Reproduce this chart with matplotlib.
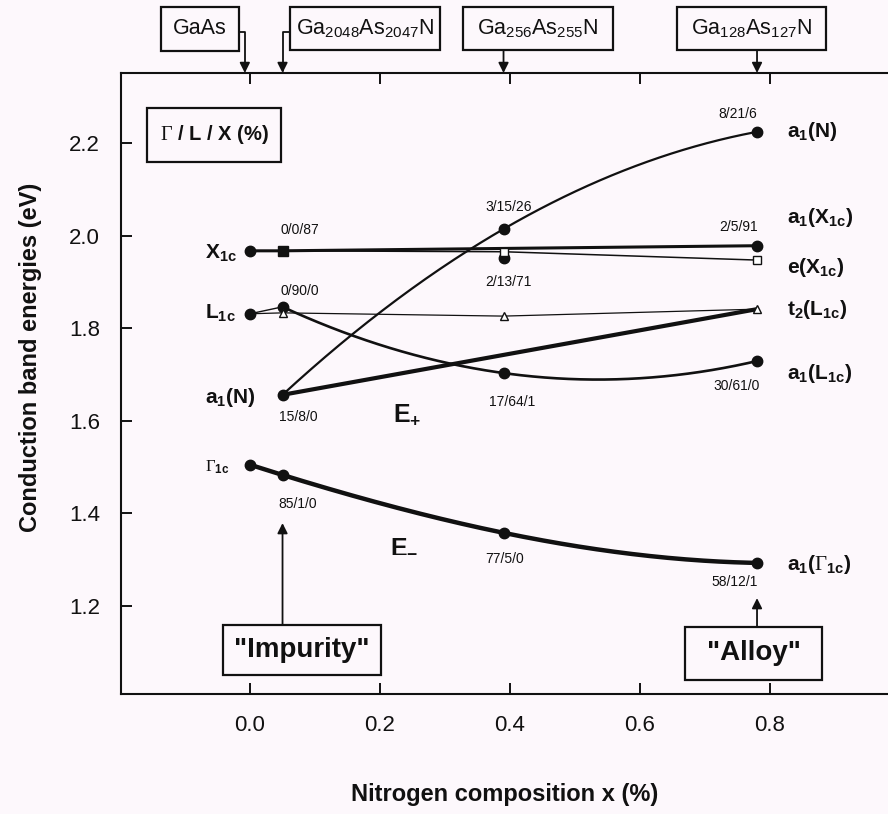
import numpy as np
import matplotlib
matplotlib.use('Agg')
import matplotlib.pyplot as plt
from matplotlib.patches import Rectangle

plt.rcParams['font.family'] = ['Liberation Sans', 'DejaVu Sans']
plt.rcParams['mathtext.fontset'] = 'custom'
plt.rcParams['mathtext.rm'] = 'Liberation Serif'
plt.rcParams['mathtext.default'] = 'regular'

# nitrogen content (%) of the supercells
x_gaas, x_2048, x_256, x_128 = 0.0, 0.05, 0.39, 0.78

# conduction band levels (eV)
eminus_x = [0.0, 0.05, 0.39, 0.78]
eminus_e = [1.505, 1.483, 1.358, 1.293]
eplus_x = [0.05, 0.78]
eplus_e = [1.656, 1.841]
a1n_x = [0.05, 0.39, 0.78]
a1n_e = [1.656, 2.014, 2.224]
a1l_x = [0.0, 0.05, 0.39, 0.78]
a1l_e = [1.831, 1.846, 1.703, 1.729]
t2l_x = [0.0, 0.05, 0.39, 0.78]
t2l_e = [1.831, 1.833, 1.826, 1.841]
a1x_x = [0.0, 0.05, 0.78]
a1x_e = [1.967, 1.967, 1.978]
ex_x = [0.05, 0.39, 0.78]
ex_e = [1.967, 1.965, 1.947]
mid_x = [0.39]
mid_e = [1.952]

# Gamma/L/X character of the states
pct_text = ['8/21/6', '2/5/91', '3/15/26', '2/13/71', '0/0/87', '0/90/0',
            '15/8/0', '17/64/1', '30/61/0', '85/1/0', '77/5/0', '58/12/1']
pct_pos = [(0.751, 2.262), (0.752, 2.018), (0.398, 2.062), (0.398, 1.900),
           (0.077, 2.012), (0.077, 1.880), (0.074, 1.608), (0.404, 1.641),
           (0.749, 1.675), (0.074, 1.420), (0.392, 1.302), (0.745, 1.252)]

bg = '#fdf8fc'
ink = '#111111'
W, H = 888, 814

fig = plt.figure(figsize=(W / 100, H / 100), dpi=100, facecolor=bg)
ax = fig.add_axes([121 / W, 120 / H, 767 / W, 621 / H])
ax.set_facecolor(bg)


def smooth(xs, ys, n=200):
    coef = np.polyfit(xs, ys, len(xs) - 1)
    xx = np.linspace(xs[0], xs[-1], n)
    return xx, np.polyval(coef, xx)


# lines
ax.plot(*smooth(eminus_x, eminus_e), color=ink, lw=3.2)
ax.plot(eplus_x, eplus_e, color=ink, lw=3.0)
ax.plot(*smooth(a1n_x, a1n_e), color=ink, lw=1.6)
ax.plot(a1l_x[:2], a1l_e[:2], color=ink, lw=1.0)
ax.plot(*smooth(a1l_x[1:], a1l_e[1:]), color=ink, lw=1.9)
ax.plot(t2l_x, t2l_e, color=ink, lw=0.9)
ax.plot(a1x_x, a1x_e, color=ink, lw=2.2)
ax.plot(ex_x, ex_e, color=ink, lw=1.1)

# markers
dot = dict(ls='none', marker='o', ms=7.5, color=ink)
ax.plot(eminus_x, eminus_e, **dot)
ax.plot(a1n_x, a1n_e, **dot)
ax.plot(a1l_x, a1l_e, **dot)
ax.plot([a1x_x[0], a1x_x[-1]], [a1x_e[0], a1x_e[-1]], **dot)
ax.plot(mid_x, mid_e, **dot)
ax.plot(a1x_x[1], a1x_e[1], ls='none', marker='s', ms=7, color=ink)
ax.plot(ex_x[1:], ex_e[1:], ls='none', marker='s', ms=6, mfc='white', mec=ink, mew=1.0)
ax.plot(t2l_x[1:], t2l_e[1:], ls='none', marker='^', ms=6, mfc='white', mec=ink, mew=1.0)

for t, (px, py) in zip(pct_text, pct_pos):
    ax.text(px, py, t, ha='center', va='center', fontsize=10, color=ink)

# state names
lab = dict(ha='left', va='center', fontsize=15, fontweight='bold', color=ink)
ax.text(-0.069, 1.962, r'X$_{1c}$', **lab)
ax.text(-0.069, 1.833, r'L$_{1c}$', **lab)
ax.text(-0.069, 1.651, r'a$_1$(N)', **lab)
ax.text(-0.069, 1.500, r'$\mathrm{\Gamma}_{1c}$', ha='left', va='center', fontsize=12,
        fontweight='bold', color=ink)
ax.text(0.826, 2.224, r'a$_1$(N)', **lab)
ax.text(0.826, 2.040, r'a$_1$(X$_{1c}$)', **lab)
ax.text(0.826, 1.932, r'e(X$_{1c}$)', **lab)
ax.text(0.826, 1.841, r't$_2$(L$_{1c}$)', **lab)
ax.text(0.826, 1.703, r'a$_1$(L$_{1c}$)', **lab)
ax.text(0.826, 1.289, r'a$_1$($\mathrm{\Gamma}_{1c}$)', **lab)
ax.text(0.220, 1.613, r'E$_{+}$', ha='left', va='center', fontsize=18, fontweight='bold', color=ink)
ax.text(0.215, 1.332, r'E$_{-}$', ha='left', va='center', fontsize=18, fontweight='bold', color=ink)

# axes
ax.set_xlim(-0.1985, 0.9815)
ax.set_ylim(1.0099, 2.351)
ax.set_xticks([0.0, 0.2, 0.4, 0.6, 0.8])
ax.set_xticklabels(['0.0', '0.2', '0.4', '0.6', '0.8'])
ax.set_yticks([1.2, 1.4, 1.6, 1.8, 2.0, 2.2])
ax.set_yticklabels(['1.2', '1.4', '1.6', '1.8', '2.0', '2.2'])
ax.tick_params(direction='in', length=8, width=1.4, top=True, labelsize=16, pad=15,
               colors=ink)
ax.spines['right'].set_visible(False)
for s in ['left', 'top', 'bottom']:
    ax.spines[s].set_linewidth(1.5)
    ax.spines[s].set_color(ink)

fig.text(30 / W, 1 - 357 / H, 'Conduction band energies (eV)', rotation=90,
         ha='center', va='center', fontsize=17, fontweight='bold', color=ink)
fig.text(505 / W, 1 - 795 / H, 'Nitrogen composition x (%)',
         ha='center', va='center', fontsize=17, fontweight='bold', color=ink)


def boxed(x0, y0, x1, y1, text, size, weight='normal'):
    # corners in pixels, measured from the top-left of the figure
    fig.add_artist(Rectangle((x0 / W, 1 - y1 / H), (x1 - x0) / W, (y1 - y0) / H,
                             transform=fig.transFigure, fill=False, lw=1.6, ec=ink))
    fig.text((x0 + x1) / 2 / W, 1 - (y0 + y1) / 2 / H, text, ha='center', va='center',
             fontsize=size, fontweight=weight, color=ink)


boxed(161, 7, 239, 51, 'GaAs', 15.5)
boxed(290, 7, 440, 50, r'Ga$_{2048}$As$_{2047}$N', 15.5)
boxed(463, 7, 613, 50, r'Ga$_{256}$As$_{255}$N', 15.5)
boxed(677, 7, 826, 50, r'Ga$_{128}$As$_{127}$N', 15.5)
boxed(147, 108, 281, 162, r'$\mathrm{\Gamma}$ / L / X (%)', 14.5, 'bold')
boxed(223, 625, 381, 675, '"Impurity"', 20, 'bold')
boxed(685, 627, 822, 680, '"Alloy"', 20, 'bold')

arrow = dict(arrowstyle='-|>', color=ink, lw=1.3, shrinkA=0, shrinkB=0,
             mutation_scale=15)
bent = dict(arrow, connectionstyle='angle,angleA=0,angleB=90,rad=0')
ax.annotate('', xy=(x_gaas - 0.008, 1.0), xycoords=('data', 'axes fraction'),
            xytext=(239, H - 32), textcoords='figure pixels', arrowprops=bent)
ax.annotate('', xy=(x_2048, 1.0), xycoords=('data', 'axes fraction'),
            xytext=(290, H - 32), textcoords='figure pixels', arrowprops=bent)
ax.annotate('', xy=(x_256, 1.0), xycoords=('data', 'axes fraction'),
            xytext=(x_256, H - 50), textcoords=('data', 'figure pixels'), arrowprops=arrow)
ax.annotate('', xy=(x_128, 1.0), xycoords=('data', 'axes fraction'),
            xytext=(x_128, H - 50), textcoords=('data', 'figure pixels'), arrowprops=arrow)
ax.annotate('', xy=(x_2048, 1.379), xytext=(x_2048, 1.159), arrowprops=arrow)
ax.annotate('', xy=(x_128, 1.217), xytext=(x_128, 1.155), arrowprops=arrow)

fig.savefig('out.png', dpi=100, facecolor=bg)
